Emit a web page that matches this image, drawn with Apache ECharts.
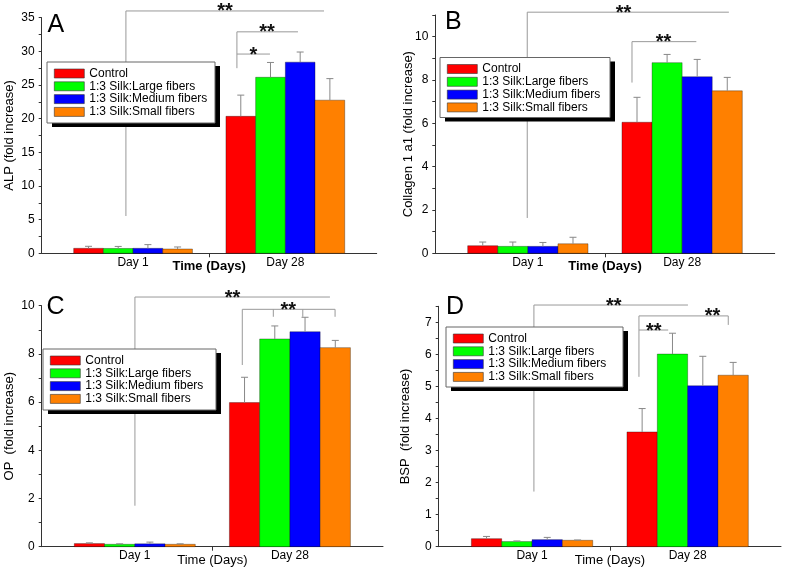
<!DOCTYPE html>
<html>
<head>
<meta charset="utf-8">
<script src="https://cdn.jsdelivr.net/npm/echarts@6/dist/echarts.min.js"></script>
<style>
html,body{margin:0;padding:0;background:#fff;}
#chart{width:787px;height:570px;}
</style>
</head>
<body>
<div id="chart"></div>
<script>
// ---------- data ----------
const categories = ['Day 1', 'Day 28'];
const seriesNames = ['Control', '1:3 Silk:Large fibers', '1:3 Silk:Medium fibers', '1:3 Silk:Small fibers'];
const seriesColors = ['#ff0000', '#00ff00', '#0000ff', '#ff8000'];

// order of each array: Control, Large, Medium, Small
const alpDay1 = [0.74, 0.72, 0.74, 0.64];
const alpDay28 = [20.35, 26.15, 28.4, 22.75];
const alpErrDay1 = [0.3, 0.3, 0.55, 0.3];
const alpErrDay28 = [3.15, 2.2, 1.5, 3.2];

const colDay1 = [0.35, 0.32, 0.32, 0.44];
const colDay28 = [6.05, 8.8, 8.15, 7.5];
const colErrDay1 = [0.17, 0.2, 0.18, 0.3];
const colErrDay28 = [1.15, 0.38, 0.8, 0.62];

const opDay1 = [0.13, 0.1, 0.12, 0.1];
const opDay28 = [5.98, 8.62, 8.92, 8.26];
const opErrDay1 = [0.03, 0.02, 0.07, 0.02];
const opErrDay28 = [1.05, 0.54, 0.6, 0.3];

const bspDay1 = [0.25, 0.16, 0.22, 0.2];
const bspDay28 = [3.58, 6.01, 5.02, 5.35];
const bspErrDay1 = [0.07, 0.02, 0.07, 0.01];
const bspErrDay28 = [0.73, 0.65, 0.92, 0.4];

// y tick labels / tick marks
const alpTickLabels = [0, 5, 10, 15, 20, 25, 30, 35];
const alpTicks = [0, 2.5, 5, 7.5, 10, 12.5, 15, 17.5, 20, 22.5, 25, 27.5, 30, 32.5, 35];
const colTickLabels = [0, 2, 4, 6, 8, 10];
const colTicks = [0, 1, 2, 3, 4, 5, 6, 7, 8, 9, 10, 11];
const opTickLabels = [0, 2, 4, 6, 8, 10];
const opTicks = [0, 1, 2, 3, 4, 5, 6, 7, 8, 9, 10];
const bspTickLabels = [0, 1, 2, 3, 4, 5, 6, 7];
const bspTicks = [0, 0.5, 1, 1.5, 2, 2.5, 3, 3.5, 4, 4.5, 5, 5.5, 6, 6.5, 7, 7.5];

// significance brackets (data units): x1, x2, y, drops [[x, yTo]], star x, text
const alpBrackets = [
  { x1: 0.953, x2: 2.254, y: 36.0, drops: [[0.953, 5.54]], star: 1.604, text: '**' },
  { x1: 1.682, x2: 2.083, y: 32.9, drops: [[1.682, 27.5]], star: 1.88, text: '**' },
  { x1: 1.682, x2: 1.899, y: 29.6, drops: [], star: 1.79, text: '*' }
];
const colBrackets = [
  { x1: 0.996, x2: 2.303, y: 11.13, drops: [[0.996, 1.63]], star: 1.62, text: '**' },
  { x1: 1.675, x2: 2.092, y: 9.77, drops: [[1.675, 7.88]], star: 1.88, text: '**' }
];
const opBrackets = [
  { x1: 1.001, x2: 2.258, y: 10.36, drops: [[1.001, 1.70]], star: 1.63, text: '**' },
  { x1: 1.693, x2: 2.291, y: 9.85, drops: [[1.693, 7.54], [1.893, 9.54], [2.083, 9.54], [2.291, 9.54]], star: 1.99, text: '**' }
];
const bspBrackets = [
  { x1: 1.012, x2: 2.002, y: 7.54, drops: [[1.012, 1.72]], star: 1.525, text: '**' },
  { x1: 1.687, x2: 1.875, y: 6.76, drops: [[1.687, 5.30]], star: 1.782, text: '**' },
  { x1: 1.687, x2: 2.261, y: 7.20, drops: [[1.687, 6.76], [2.261, 6.92]], star: 2.16, text: '**' }
];

// ---------- layout / style ----------
const FONT = '"Liberation Sans", Arial, Helvetica, sans-serif';
const BAR_W = 0.195;                    // bar width in x-axis units
const OFFS = [-1.5, -0.5, 0.5, 1.5];

const panels = [
  { letter: 'A', yName: 'ALP (fold increase)', day1: alpDay1, day28: alpDay28, err1: alpErrDay1, err28: alpErrDay28,
    max: 35, labels: alpTickLabels, ticks: alpTicks, brackets: alpBrackets,
    grid: { left: 41.7, top: 17.7, width: 335, height: 235.6 }, nameGap: 26, xBold: true,
    box: [47, 62, 168, 61], letterPos: [47.5, 12.6] },
  { letter: 'B', yName: 'Collagen 1 a1 (fold increase)', day1: colDay1, day28: colDay28, err1: colErrDay1, err28: colErrDay28,
    max: 11, labels: colTickLabels, ticks: colTicks, brackets: colBrackets,
    grid: { left: 435.3, top: 15, width: 339.4, height: 238.3 }, nameGap: 20, xBold: true,
    box: [440, 57.5, 170, 60], letterPos: [445, 10] },
  { letter: 'C', yName: 'OP  (fold increase)', day1: opDay1, day28: opDay28, err1: opErrDay1, err28: opErrDay28,
    max: 10, labels: opTickLabels, ticks: opTicks, brackets: opBrackets,
    grid: { left: 41.7, top: 305.7, width: 341.3, height: 241 }, nameGap: 26, xBold: false,
    box: [43, 349, 173, 61], letterPos: [46.5, 294.3] },
  { letter: 'D', yName: 'BSP  (fold increase)', day1: bspDay1, day28: bspDay28, err1: bspErrDay1, err28: bspErrDay28,
    max: 7.5, labels: bspTickLabels, ticks: bspTicks, brackets: bspBrackets,
    grid: { left: 438.7, top: 306.3, width: 342.3, height: 240.4 }, nameGap: 27, xBold: false,
    box: [446, 327, 177, 60], letterPos: [446, 294.3] }
];

function barRender(sIdx) {
  return function (params, api) {
    const xc = api.value(0) + OFFS[sIdx] * BAR_W;
    const v = api.value(1), e = api.value(2);
    const tl = api.coord([xc - BAR_W / 2, v]);
    const br = api.coord([xc + BAR_W / 2, 0]);
    const top = api.coord([xc, v + e]);
    const base = api.coord([xc, v]);
    return {
      type: 'group',
      children: [
        { type: 'rect', shape: { x: tl[0], y: tl[1], width: br[0] - tl[0], height: br[1] - tl[1] },
          style: { fill: seriesColors[sIdx], stroke: 'rgba(0,0,0,0.45)', lineWidth: 0.7 } },
        { type: 'line', shape: { x1: base[0], y1: base[1], x2: top[0], y2: top[1] },
          style: { stroke: '#888', lineWidth: 1 } },
        { type: 'line', shape: { x1: top[0] - 3.5, y1: top[1], x2: top[0] + 3.5, y2: top[1] },
          style: { stroke: '#888', lineWidth: 1 } }
      ]
    };
  };
}

function bracketRender(brs) {
  return function (params, api) {
    const b = brs[params.dataIndex];
    const p1 = api.coord([b.x1, b.y]), p2 = api.coord([b.x2, b.y]);
    const children = [
      { type: 'line', shape: { x1: p1[0], y1: p1[1], x2: p2[0], y2: p2[1] }, style: { stroke: '#999', lineWidth: 1 } }
    ];
    b.drops.forEach(function (d) {
      const a = api.coord([d[0], b.y]), c = api.coord([d[0], d[1]]);
      children.push({ type: 'line', shape: { x1: a[0], y1: a[1], x2: c[0], y2: c[1] }, style: { stroke: '#999', lineWidth: 1 } });
    });
    const s = api.coord([b.star, b.y]);
    children.push({ type: 'text', x: s[0], y: s[1] + 1,
      style: { text: b.text, font: 'bold 20px ' + FONT, fill: '#111', align: 'center', verticalAlign: 'middle' } });
    return { type: 'group', children: children };
  };
}

const option = {
  backgroundColor: '#fff',
  animation: false,
  grid: [], xAxis: [], yAxis: [], legend: [], series: [], graphic: []
};

panels.forEach(function (p, pi) {
  option.grid.push(Object.assign({ containLabel: false }, p.grid));
  option.xAxis.push({
    type: 'value', gridIndex: pi, min: 0.4, max: 2.6,
    name: 'Time (Days)', nameLocation: 'middle', nameGap: 7, nameMoveOverlap: false,
    nameTextStyle: { fontSize: 13, fontFamily: FONT, color: '#000', fontWeight: p.xBold ? 'bold' : 'normal' },
    axisLine: { show: true, lineStyle: { color: '#333', width: 1 } },
    axisTick: { show: true, customValues: [1.5], length: 4, lineStyle: { color: '#333' } },
    axisLabel: { customValues: [1, 2], margin: 3, fontSize: 12, fontFamily: FONT, color: '#000',
      formatter: function (v) { return categories[Math.round(v) - 1]; } },
    splitLine: { show: false }
  });
  option.yAxis.push({
    type: 'value', gridIndex: pi, min: 0, max: p.max,
    name: p.yName, nameLocation: 'middle', nameGap: p.nameGap, nameMoveOverlap: false,
    nameTextStyle: { fontSize: 13, fontFamily: FONT, color: '#000' },
    axisLine: { show: true, lineStyle: { color: '#333', width: 1 } },
    axisTick: { show: true, customValues: p.ticks, length: 3, lineStyle: { color: '#333' } },
    axisLabel: { customValues: p.labels, margin: 7, fontSize: 12, fontFamily: FONT, color: '#000' },
    splitLine: { show: false }
  });
  const bx = p.box;
  // legend frame with hard black drop shadow
  option.graphic.push({
    type: 'rect', z: 3, silent: true,
    shape: { x: bx[0] + 5, y: bx[1] + 4, width: bx[2], height: bx[3] },
    style: { fill: '#000' }
  });
  option.graphic.push({
    type: 'rect', z: 3, silent: true,
    shape: { x: bx[0], y: bx[1], width: bx[2], height: bx[3] },
    style: { fill: '#fff', stroke: '#666', lineWidth: 1 }
  });
  option.legend.push({
    data: seriesNames, left: bx[0] + 7, top: bx[1] + 5.5, orient: 'vertical',
    icon: 'rect', itemWidth: 30, itemHeight: 9, itemGap: 0.8, selectedMode: false,
    padding: 0, z: 5,
    textStyle: { fontSize: 12, lineHeight: 12, fontFamily: FONT, color: '#000' },
    itemStyle: { borderColor: '#333', borderWidth: 0.6 }
  });
  seriesNames.forEach(function (name, si) {
    const vals = [p.day1[si], p.day28[si]];
    const errs = [p.err1[si], p.err28[si]];
    option.series.push({
      type: 'custom', name: name, xAxisIndex: pi, yAxisIndex: pi, clip: false,
      itemStyle: { color: seriesColors[si] },
      renderItem: barRender(si),
      data: categories.map(function (c, ci) { return [ci + 1, vals[ci], errs[ci]]; }),
      z: 2
    });
  });
  option.series.push({
    type: 'custom', name: 'sig' + pi, xAxisIndex: pi, yAxisIndex: pi, clip: false,
    renderItem: bracketRender(p.brackets),
    data: p.brackets.map(function (b, bi) { return [bi]; }),
    z: 1, silent: true
  });
  option.graphic.push({
    type: 'text', left: p.letterPos[0], top: p.letterPos[1], z: 3,
    style: { text: p.letter, font: '25px ' + FONT, fill: '#000' }
  });
});

const chart = echarts.init(document.getElementById('chart'), null, { renderer: 'canvas' });
chart.setOption(option);
</script>
</body>
</html>
